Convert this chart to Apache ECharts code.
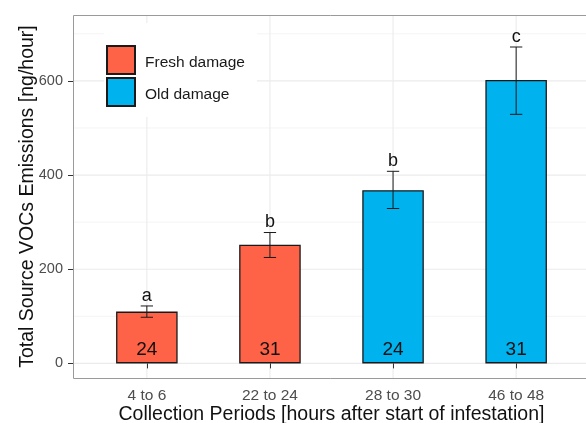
<!DOCTYPE html>
<html>
<head>
<meta charset="utf-8">
<script src="https://cdn.jsdelivr.net/npm/echarts@6/dist/echarts.min.js"></script>
<style>html,body{margin:0;padding:0;background:#fff}#c{width:586px;height:423px}</style>
</head>
<body>
<div id="c"></div>
<script>
const categories = ['4 to 6', '22 to 24', '28 to 30', '46 to 48'];
const freshValues = [110, 252, null, null];
const oldValues = [null, null, 368, 602];
const errLow = [98, 225, 329, 529];
const errHigh = [122, 278, 408, 672];
const letters = ['a', 'b', 'b', 'c'];
const nLabels = ['24', '31', '24', '31'];
const yTicks = [0, 200, 400, 600];
const yMinor = [100, 300, 500, 700];

const FONT = '"Liberation Sans", Arial, sans-serif';
const chart = echarts.init(document.getElementById('c'), null, {renderer: 'canvas'});

// panel layout (ggplot-like: discrete axis expanded by 0.6 band on each side)
const panelLeft = 73, panelWidth = 517, panelTop = 15, panelHeight = 363;
const band = panelWidth / 4.2;
const ext = band * 0.1;

const errData = categories.map((c, i) => [i, errLow[i], errHigh[i]]);

function renderErr(params, api) {
  const x = api.value(0);
  const pLo = api.coord([x, api.value(1)]);
  const pHi = api.coord([x, api.value(2)]);
  const half = api.size([1, 0])[0] * 0.05;
  const st = {stroke: '#1a1a1a', lineWidth: 1};
  return {
    type: 'group',
    children: [
      {type: 'line', shape: {x1: pLo[0], y1: pLo[1], x2: pHi[0], y2: pHi[1]}, style: st},
      {type: 'line', shape: {x1: pLo[0] - half, y1: pLo[1], x2: pLo[0] + half, y2: pLo[1]}, style: st},
      {type: 'line', shape: {x1: pHi[0] - half, y1: pHi[1], x2: pHi[0] + half, y2: pHi[1]}, style: st},
      {type: 'text', x: pHi[0], y: pHi[1] - 10,
       style: {text: letters[params.dataIndex], fontSize: 18, fontFamily: FONT,
               fill: '#111', align: 'center', verticalAlign: 'middle'}}
    ]
  };
}

// gridline items: [categoryIndex, value, kind]  kind 0 = minor h, 1 = major h, 2 = vertical
const gridData = [];
yTicks.forEach(v => gridData.push([0, v, 1]));
yMinor.forEach(v => gridData.push([0, v, 0]));
categories.forEach((c, i) => gridData.push([i, 0, 2]));

function renderGrid(params, api) {
  const cs = params.coordSys;
  const kind = api.value(2);
  if (kind === 2) {
    const x = api.coord([api.value(0), 0])[0];
    return {type: 'line', shape: {x1: x, y1: cs.y, x2: x, y2: cs.y + cs.height},
            style: {stroke: '#EBEBEB', lineWidth: 1.1}};
  }
  const y = api.coord([0, api.value(1)])[1];
  return {type: 'line', shape: {x1: cs.x - ext, y1: y, x2: cs.x + cs.width + ext, y2: y},
          style: {stroke: kind === 1 ? '#EBEBEB' : '#F4F4F4', lineWidth: kind === 1 ? 1.1 : 1}};
}

function renderBorder(params, api) {
  const cs = params.coordSys;
  if (params.dataIndex !== 0) return null;
  return {type: 'rect', shape: {x: cs.x - ext + 0.5, y: cs.y + 0.5, width: cs.width + 2 * ext, height: cs.height},
          style: {stroke: '#9a9a9a', lineWidth: 1, fill: null}};
}

const barLabel = {
  show: true, position: 'insideBottom', distance: 4,
  fontSize: 19, fontFamily: FONT, color: '#111',
  formatter: p => nLabels[p.dataIndex]
};

chart.setOption({
  animation: false,
  backgroundColor: '#fff',
  textStyle: {fontFamily: FONT},
  grid: {left: panelLeft + ext, top: panelTop, width: band * 4, height: panelHeight,
         outerBoundsMode: 'none', containLabel: false, show: false},
  legend: {
    orient: 'vertical', left: 104, top: 23,
    padding: [22, 12, 10, 2],
    itemWidth: 28, itemHeight: 28, itemGap: 2,
    backgroundColor: '#fff',
    icon: 'rect',
    formatter: name => '{t|' + name + '}',
    textStyle: {
      fontSize: 15.5, color: '#1a1a1a', fontFamily: FONT,
      rich: {t: {fontSize: 15.5, color: '#1a1a1a', fontFamily: FONT, padding: [6, 0, 0, 5]}}
    },
    data: ['Fresh damage', 'Old damage']
  },
  xAxis: {
    type: 'category', data: categories,
    axisLine: {show: false},
    axisTick: {show: true, alignWithLabel: true, length: 5, lineStyle: {color: '#333'}},
    axisLabel: {fontSize: 15.5, color: '#4D4D4D', fontFamily: FONT, margin: 10},
    splitLine: {show: false},
    name: 'Collection Periods [hours after start of infestation]',
    nameLocation: 'middle', nameGap: 27, nameMoveOverlap: false,
    nameTextStyle: {fontSize: 19.5, color: '#111', fontFamily: FONT}
  },
  yAxis: {
    type: 'value', min: -31, max: 740, offset: ext,
    axisLine: {show: false},
    axisTick: {show: true, length: 5, customValues: yTicks, lineStyle: {color: '#333'}},
    axisLabel: {fontSize: 14.5, color: '#4D4D4D', fontFamily: FONT, margin: 10, customValues: yTicks},
    splitLine: {show: false},
    name: 'Total Source VOCs Emissions [ng/hour]',
    nameLocation: 'middle', nameGap: 35, nameRotate: 90, nameMoveOverlap: false,
    nameTextStyle: {fontSize: 19.5, color: '#111', fontFamily: FONT}
  },
  series: [
    {
      type: 'custom', data: gridData, renderItem: renderGrid, z: 0, silent: true,
      encode: {x: 0, y: 1}
    },
    {
      name: 'Fresh damage', type: 'bar', data: freshValues, barWidth: '50%', barGap: '-100%', z: 3,
      itemStyle: {color: '#FF6347', borderColor: '#1a1a1a', borderWidth: 1.3},
      label: barLabel
    },
    {
      name: 'Old damage', type: 'bar', data: oldValues, barWidth: '50%', barGap: '-100%', z: 3,
      itemStyle: {color: '#00B2EE', borderColor: '#1a1a1a', borderWidth: 1.3},
      label: barLabel
    },
    {
      type: 'custom', data: errData, renderItem: renderErr, z: 5, silent: true,
      encode: {x: 0, y: [1, 2]}
    },
    {
      type: 'custom', data: [[0, 0]], renderItem: renderBorder, z: 6, silent: true,
      encode: {x: 0, y: 1}
    }
  ]
});
</script>
</body>
</html>
